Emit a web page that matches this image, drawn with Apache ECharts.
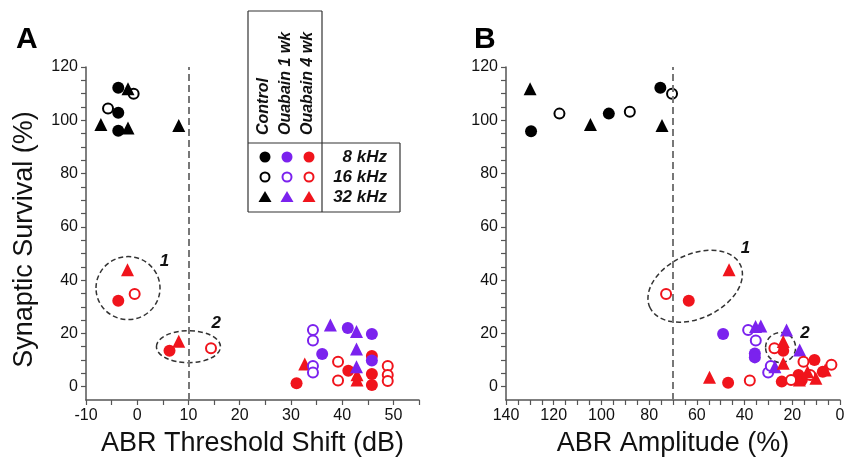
<!DOCTYPE html>
<html>
<head>
<meta charset="utf-8">
<script src="https://cdn.jsdelivr.net/npm/echarts@6/dist/echarts.min.js"></script>
<style>
  html, body { margin: 0; padding: 0; background: #fff; }
  #main { width: 844px; height: 463px; }
</style>
</head>
<body>
<div id="main"></div>
<script>
// panel A: ABR threshold shift (dB) vs synaptic survival (%)
var aCtrl8  = [[-3.7, 112.2], [-3.7, 102.8], [-3.7, 96.1]];
var aCtrl16 = [[-0.7, 110], [-5.7, 104.4]];
var aCtrl32 = [[-1.8, 111.8], [-7.1, 98.4], [-1.8, 97.1], [8.1, 98]];
var aWk1_8  = [[36.1, 12.3], [41.1, 22], [45.8, 19.8], [45.8, 9.8]];
var aWk1_16 = [[34.3, 21.3], [34.3, 17.3], [34.3, 7.8], [34.3, 5.3]];
var aWk1_32 = [[37.7, 23.2], [42.8, 20.7], [42.8, 14.1], [42.8, 7.5]];
var aWk4_8  = [[-3.7, 32.3], [6.3, 13.5], [31.1, 1.3], [41.2, 6], [45.8, 11.5], [45.8, 4.8], [45.8, 0.6]];
var aWk4_16 = [[-0.5, 34.8], [14.4, 14.4], [39.2, 9.4], [39.2, 2.3], [48.9, 7.8], [48.9, 4.4], [48.9, 2.1]];
var aWk4_32 = [[-1.9, 43.9], [8.1, 17.1], [32.7, 8.5], [42.9, 4.5], [42.9, 2.5]];

// panel B: ABR amplitude (%) vs synaptic survival (%)
var bCtrl8  = [[129.5, 95.9], [96.9, 102.5], [75.3, 112.2]];
var bCtrl16 = [[117.6, 102.5], [88.1, 103.2], [70.4, 110]];
var bCtrl32 = [[129.9, 111.8], [104.6, 98.4], [74.6, 98]];
var bWk1_8  = [[49, 19.8], [35.7, 12.5], [35.7, 11]];
var bWk1_16 = [[38.5, 21.3], [35.3, 17.3], [30.1, 5.3], [29, 7.8]];
var bWk1_32 = [[35.4, 22.6], [33.2, 22.8], [27.3, 7.5], [22.4, 21.3], [16.9, 13.8]];
var bWk4_8  = [[63.4, 32.3], [46.9, 1.5], [23.8, 13.5], [24.4, 1.9], [17.4, 4.4], [16, 2.5], [10.7, 10], [7.2, 5.6]];
var bWk4_16 = [[72.9, 34.8], [37.8, 2.3], [27.5, 14.4], [20.5, 2.5], [15.3, 9.4], [12.5, 4.4], [3.6, 8.2]];
var bWk4_32 = [[46.5, 43.9], [54.7, 3.5], [23.8, 17], [23.8, 8.8], [17, 2.5], [13.6, 5.6], [10.1, 3.2], [6.2, 6.3]];

// axis ticks and labels
var yLabels  = [0, 20, 40, 60, 80, 100, 120];
var yTicks   = [0, 5, 10, 15, 20, 25, 30, 35, 40, 45, 50, 55, 60, 65, 70, 75, 80, 85, 90, 95, 100, 105, 110, 115, 120];
var axLabels = [-10, 0, 10, 20, 30, 40, 50];
var axTicks  = [-10, -5, 0, 5, 10, 15, 20, 25, 30, 35, 40, 45, 50, 55];
var bxLabels = [0, 20, 40, 60, 80, 100, 120, 140];
var bxTicks  = [0, 5, 10, 15, 20, 25, 30, 35, 40, 45, 50, 55, 60, 65, 70, 75, 80, 85, 90, 95, 100, 105, 110, 115, 120, 125, 130, 135, 140];

// dashed cutoffs
var aCut = 10;
var bCut = 70;

// circled groups: [panel, x, y, label, labelX, labelY]
var groups = [
  [0, -1.8, 37, '1', 5.3, 46.9],
  [0, 10, 15, '2', 15.4, 23.6],
  [1, 60.7, 37.7, '1', 39.6, 52.1],
  [1, 24.9, 14.7, '2', 14.7, 20.2]
];

var legendCols = ['Control', 'Ouabain 1 wk', 'Ouabain 4 wk'];
var legendRows = ['8 kHz', '16 kHz', '32 kHz'];

var BLACK = '#000000', PURPLE = '#7b22ee', RED = '#f0141c';
var FONT = 'Liberation Sans, Arial, Helvetica, sans-serif';

function ser(grid, data, kind, color) {
  var s = {
    type: 'scatter',
    xAxisIndex: grid,
    yAxisIndex: grid,
    data: data,
    silent: true,
    symbol: kind == 'tri' ? 'triangle' : 'circle',
    symbolSize: kind == 'tri' ? 13 : (kind == 'open' ? 10 : 12),
    itemStyle: { color: color, opacity: 1 }
  };
  if (kind == 'open') {
    s.itemStyle = { color: '#ffffff', borderColor: color, borderWidth: 2, opacity: 1 };
  }
  return s;
}

function yAx(grid, name) {
  return {
    type: 'value', gridIndex: grid, min: -5, max: 120,
    name: name, nameLocation: 'middle', nameGap: 48,
    nameTextStyle: { fontFamily: FONT, fontSize: 27, color: '#111', padding: [0, 0, 0, -12] },
    axisLine: { show: true, onZero: false, lineStyle: { color: '#555', width: 1.5 } },
    axisTick: { show: true, length: 5, customValues: yTicks, lineStyle: { color: '#555', width: 1.2 } },
    axisLabel: { customValues: yLabels, fontFamily: FONT, fontSize: 16, color: '#111', margin: 8 },
    splitLine: { show: false }
  };
}

function xAx(grid, min, max, labels, ticks, name, inverse) {
  return {
    type: 'value', gridIndex: grid, min: min, max: max, inverse: inverse,
    name: name, nameLocation: 'middle', nameGap: 30,
    nameTextStyle: { fontFamily: FONT, fontSize: 27, color: '#111' },
    axisLine: { show: true, onZero: false, lineStyle: { color: '#555', width: 1.5 } },
    axisTick: { show: true, length: 5, customValues: ticks, lineStyle: { color: '#555', width: 1.2 } },
    axisLabel: { customValues: labels, fontFamily: FONT, fontSize: 16, color: '#111', margin: 8, showMaxLabel: true, showMinLabel: true },
    splitLine: { show: false }
  };
}

function cutLine(value) {
  return {
    silent: true, symbol: 'none', label: { show: false },
    lineStyle: { color: '#777', type: [7, 4], width: 2 },
    data: [{ xAxis: value }]
  };
}

var series = [
  ser(0, aCtrl8, 'filled', BLACK), ser(0, aCtrl16, 'open', BLACK), ser(0, aCtrl32, 'tri', BLACK),
  ser(0, aWk4_8, 'filled', RED), ser(0, aWk4_16, 'open', RED), ser(0, aWk4_32, 'tri', RED),
  ser(0, aWk1_8, 'filled', PURPLE), ser(0, aWk1_16, 'open', PURPLE), ser(0, aWk1_32, 'tri', PURPLE),
  ser(1, bCtrl8, 'filled', BLACK), ser(1, bCtrl16, 'open', BLACK), ser(1, bCtrl32, 'tri', BLACK),
  ser(1, bWk1_8, 'filled', PURPLE), ser(1, bWk1_16, 'open', PURPLE), ser(1, bWk1_32, 'tri', PURPLE),
  ser(1, bWk4_8, 'filled', RED), ser(1, bWk4_16, 'open', RED), ser(1, bWk4_32, 'tri', RED)
];
series[0].markLine = cutLine(aCut);
series[9].markLine = cutLine(bCut);

var myChart = echarts.init(document.getElementById('main'), null, { renderer: 'canvas' });
myChart.setOption({
  animation: false,
  backgroundColor: '#ffffff',
  title: [
    { text: 'A', left: 11, top: 20, textStyle: { fontFamily: FONT, fontSize: 30, fontWeight: 'bold', color: '#000' } },
    { text: 'B', left: 469, top: 20, textStyle: { fontFamily: FONT, fontSize: 30, fontWeight: 'bold', color: '#000' } }
  ],
  grid: [
    { left: 86, top: 67, width: 333, height: 333, containLabel: false, outerBoundsMode: 'none' },
    { left: 506, top: 67, width: 334, height: 333, containLabel: false, outerBoundsMode: 'none' }
  ],
  xAxis: [
    xAx(0, -10, 55, axLabels, axTicks, 'ABR Threshold Shift (dB)', false),
    xAx(1, 0, 140, bxLabels, bxTicks, 'ABR Amplitude (%)', true)
  ],
  yAxis: [yAx(0, 'Synaptic Survival (%)'), yAx(1, '')],
  series: series
});

// legend table and circled groups
var els = [];
var lineStyle = { stroke: '#333', lineWidth: 1.2 };
function seg(x1, y1, x2, y2) {
  els.push({ type: 'line', shape: { x1: x1, y1: y1, x2: x2, y2: y2 }, style: lineStyle, silent: true });
}
seg(248, 11, 322, 11);
seg(248, 11, 248, 212);
seg(322, 11, 322, 212);
seg(248, 143, 400, 143);
seg(400, 143, 400, 212);
seg(248, 212, 400, 212);

var colX = [265, 287, 309];
var rowY = [157, 177, 197];
var colColors = [BLACK, PURPLE, RED];
legendCols.forEach(function(t, i) {
  els.push({
    type: 'text', x: colX[i] - 1, y: 135, rotation: Math.PI / 2, silent: true,
    style: { text: t, fontFamily: FONT, fontSize: 16, fontWeight: 'bold', fontStyle: 'italic',
             fill: '#111', align: 'left', verticalAlign: 'middle' }
  });
  // filled circle
  els.push({ type: 'circle', shape: { cx: colX[i], cy: rowY[0], r: 5.5 }, style: { fill: colColors[i] }, silent: true });
  // open circle
  els.push({ type: 'circle', shape: { cx: colX[i], cy: rowY[1], r: 4.5 }, style: { fill: '#fff', stroke: colColors[i], lineWidth: 2 }, silent: true });
  // triangle
  els.push({ type: 'polygon', shape: { points: [[colX[i], rowY[2] - 6], [colX[i] + 6.5, rowY[2] + 5], [colX[i] - 6.5, rowY[2] + 5]] },
             style: { fill: colColors[i] }, silent: true });
});
legendRows.forEach(function(t, i) {
  els.push({
    type: 'text', x: 387, y: rowY[i], silent: true,
    style: { text: t, fontFamily: FONT, fontSize: 17, fontWeight: 'bold', fontStyle: 'italic',
             fill: '#111', align: 'right', verticalAlign: 'middle' }
  });
});

var shapes = [
  { rx: 32, ry: 31.5, rot: 0 },
  { rx: 32, ry: 16, rot: 0 },
  { rx: 50, ry: 32, rot: 0.44 },
  { rx: 15, ry: 15, rot: 0 }
];
groups.forEach(function(g, i) {
  var c = myChart.convertToPixel({ gridIndex: g[0] }, [g[1], g[2]]);
  var p = myChart.convertToPixel({ gridIndex: g[0] }, [g[4], g[5]]);
  els.push({
    type: 'ellipse', x: c[0], y: c[1], rotation: shapes[i].rot, silent: true,
    shape: { cx: 0, cy: 0, rx: shapes[i].rx, ry: shapes[i].ry },
    style: { fill: 'none', stroke: '#333', lineWidth: 1.5, lineDash: [5, 3] }
  });
  els.push({
    type: 'text', x: p[0], y: p[1], silent: true,
    style: { text: g[3], fontFamily: FONT, fontSize: 17, fontWeight: 'bold', fontStyle: 'italic',
             fill: '#111', align: 'center', verticalAlign: 'middle' }
  });
});

myChart.setOption({ graphic: { elements: els } });
</script>
</body>
</html>
